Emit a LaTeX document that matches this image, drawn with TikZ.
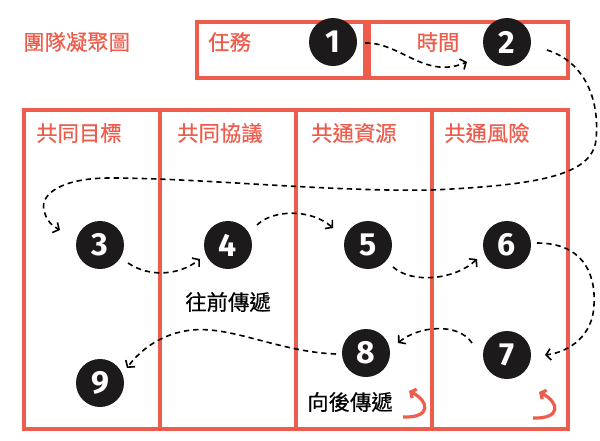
\documentclass[tikz,border=0pt]{standalone}
\usepackage{fontspec}
\newfontfamily\cjk[FakeBold=0.5]{Noto Sans CJK TC}
\newfontfamily\numfont{Fira Sans}
\usetikzlibrary{arrows.meta,calc}
\definecolor{cohred}{RGB}{238,92,76}
\definecolor{dotblack}{RGB}{28,26,26}
\tikzset{
  redbox/.style={draw=cohred,line width=3.3pt},
  num/.style={circle,fill=dotblack,text=white,minimum size=36pt,inner sep=0pt,font=\numfont\bfseries\fontsize{24}{24}\selectfont},
  head/.style={text=cohred,inner sep=0.75pt,font=\cjk\fontsize{16}{16}\selectfont},
  lbl/.style={text=black,inner sep=0.75pt,font=\cjk\fontsize{16}{16}\selectfont},
  flow/.style={dash pattern=on 4pt off 3pt,line width=1.2pt,-{Straight Barb[length=3.5pt,width=8.5pt]}},
  curl/.style={draw=cohred,line width=2.4pt,-{Straight Barb[length=3pt,width=7.5pt]}}
}
\begin{document}
\begin{tikzpicture}[x=0.75pt,y=0.75pt,yscale=-1,xscale=1]
\useasboundingbox (0,0) rectangle (600,440);
\draw[redbox] (197,22) rectangle (365,78);
\draw[redbox] (369,22) rectangle (568,78);
\draw[redbox] (24,110) rectangle (568,429);
\draw[redbox] (160,110) -- (160,429);
\draw[redbox] (296,110) -- (296,429);
\draw[redbox] (432,110) -- (432,429);
\node[head,anchor=west] (title) at (22,42) {團隊凝聚圖};
\node[head,anchor=west] (task) at (207,42) {任務};
\node[head] (time) at (438,42) {時間};
\node[head,anchor=west] (goal) at (35,133) {共同目標};
\node[head,anchor=west] (deal) at (176,133) {共同協議};
\node[head,anchor=west] (asset) at (310,133) {共通資源};
\node[head,anchor=west] (risk) at (443,133) {共通風險};
\node[lbl] (fwd) at (228,302) {往前傳遞};
\node[lbl] (back) at (350,402) {向後傳遞};
\node[num] (n1) at (333,42) {1};
\node[num] (n2) at (507,42) {2};
\node[num] (n3) at (100,245) {3};
\node[num] (n4) at (228,245) {4};
\node[num] (n5) at (368,245) {5};
\node[num] (n6) at (507,245) {6};
\node[num] (n7) at (507,355) {7};
\node[num] (n8) at (366,353) {8};
\node[num] (n9) at (100,383) {9};
\draw[flow] ($(n1)+(32,1)$) .. controls (400,42) and (425,80) .. ($(n2)+(-40,20)$);
\draw[flow] ($(n2)+(40,8)$) .. controls (585,62) and (600,100) .. (596,140) .. controls (592,175) and (540,185) .. (432,190) .. controls (330,192) and (200,178) .. (110,178) .. controls (60,178) and (40,195) .. (44,210) .. controls (46,220) and (52,226) .. ($(n3)+(-40,-15)$);
\draw[flow] ($(n3)+(28,18)$) .. controls (150,278) and (180,275) .. ($(n4)+(-28,14)$);
\draw[flow] ($(n4)+(29,-20)$) .. controls (272,210) and (310,208) .. ($(n5)+(-35,-17)$);
\draw[flow] ($(n5)+(25,22)$) .. controls (412,284) and (455,280) .. ($(n6)+(-30,14)$);
\draw[flow] ($(n6)+(30,-2)$) .. controls (580,243) and (596,270) .. (594,305) .. controls (593,335) and (570,352) .. ($(n7)+(38,0)$);
\draw[flow] ($(n7)+(-35,-12)$) .. controls (458,322) and (418,326) .. ($(n8)+(32,-10)$);
\draw[flow] ($(n8)+(-30,1)$) .. controls (280,352) and (232,326) .. (192,330) .. controls (162,333) and (140,350) .. ($(n9)+(27,-15)$);
\draw[curl] (403,417) .. controls (432,418) and (429,401) .. (409,391);
\draw[curl] (533,418) .. controls (562,419) and (559,402) .. (539,392);
\end{tikzpicture}
\end{document}
